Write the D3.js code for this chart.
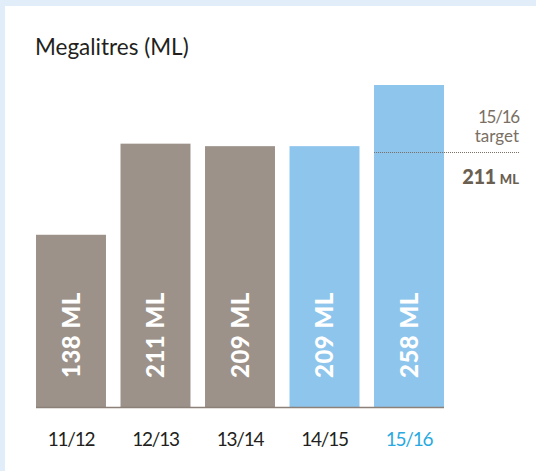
<!DOCTYPE html>
<html><head><meta charset="utf-8">
<script src="https://cdn.jsdelivr.net/npm/d3@7"></script>
<style>
html,body{margin:0;padding:0;background:#e1eef9;}
svg{display:block;}
</style></head>
<body>
<svg id="chart" width="536" height="471"></svg>
<script>
const categories = ["11/12", "12/13", "13/14", "14/15", "15/16"];
const values = [138, 211, 209, 209, 258];
const barColors = ["#9c9289", "#9c9289", "#9c9289", "#8ec5ec", "#8ec5ec"];
const labelColors = ["#231f20", "#231f20", "#231f20", "#231f20", "#29a9e0"];
const targetYear = "15/16";
const targetValue = 211;
const unit = "ML";
const title = "Megalitres (ML)";

const svg = d3.select("#chart");
const font = "Lato, 'Open Sans', sans-serif";

svg.append("rect").attr("x", 5).attr("y", 6).attr("width", 531).attr("height", 465).attr("fill", "#ffffff");

const x = d3.scaleBand().domain(categories).range([36, 444]).paddingInner(0.172).paddingOuter(0);
const y = d3.scaleLinear().domain([0, 258]).range([407, 85]);
const bw = x.bandwidth();

svg.append("text").attr("x", 35).attr("y", 55).attr("font-family", font)
  .attr("font-size", 22.5).attr("fill", "#231f20").text(title);

svg.selectAll("rect.bar").data(values).join("rect").attr("class", "bar")
  .attr("x", (d, i) => x(categories[i]))
  .attr("y", d => y(d))
  .attr("width", bw)
  .attr("height", d => y(0) - y(d))
  .attr("fill", (d, i) => barColors[i]);

// baseline
svg.append("line").attr("x1", x(categories[0])).attr("x2", x(categories[4]) + bw)
  .attr("y1", y(0) + 0.5).attr("y2", y(0) + 0.5).attr("stroke", "#8c8178").attr("stroke-width", 1.5);

// bar value labels
svg.selectAll("text.val").data(values).join("text").attr("class", "val")
  .attr("transform", (d, i) => `translate(${x(categories[i]) + bw / 2},378) rotate(-90)`)
  .attr("dy", "0.36em")
  .attr("font-family", font).attr("font-weight", 900).attr("font-size", 24)
  .attr("fill", "#ffffff").attr("letter-spacing", 0.5)
  .text(d => d + " " + unit);

// x labels
svg.selectAll("text.cat").data(categories).join("text").attr("class", "cat")
  .attr("x", d => x(d) + bw / 2).attr("y", 446).attr("text-anchor", "middle")
  .attr("font-family", font).attr("font-size", 19).attr("letter-spacing", -1.2)
  .attr("fill", (d, i) => labelColors[i]).text(d => d);

// target annotation
const tx = 519;
svg.append("text").attr("x", tx).attr("y", 123).attr("text-anchor", "end")
  .attr("font-family", font).attr("font-size", 17).attr("letter-spacing", -1.2)
  .attr("fill", "#7a6f64").text(targetYear);
svg.append("text").attr("x", tx).attr("y", 142).attr("text-anchor", "end")
  .attr("font-family", font).attr("font-size", 17).attr("fill", "#7a6f64").text("target");
svg.append("line").attr("x1", x(categories[4])).attr("x2", 520).attr("y1", 152.5).attr("y2", 152.5)
  .attr("stroke", "#7a6f64").attr("stroke-width", 1).attr("stroke-dasharray", "1,1");
const t = svg.append("text").attr("x", tx).attr("y", 184).attr("text-anchor", "end")
  .attr("font-family", font).attr("font-weight", 900).attr("fill", "#6b5f52");
t.append("tspan").attr("font-size", 20).attr("letter-spacing", -0.5).text(targetValue + " ");
t.append("tspan").attr("font-size", 13).text(unit);
</script>
</body></html>
